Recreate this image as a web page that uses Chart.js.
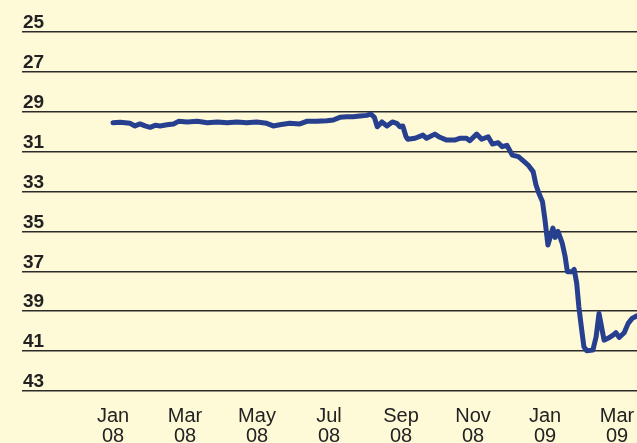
<!DOCTYPE html>
<html>
<head>
<meta charset="utf-8">
<script src="https://cdn.jsdelivr.net/npm/chart.js@4/dist/chart.umd.min.js"></script>
<style>
  html, body { margin: 0; padding: 0; background: #fef9d7; }
  canvas { display: block; }
</style>
</head>
<body>
<canvas id="c" width="637" height="443"></canvas>
<script>
// Month offsets from Jan 2008 (0 = Jan 08, 2 = Mar 08, ... 14 = Mar 09)
const months = [0,0.2,0.47,0.61,0.75,0.89,1.03,1.17,1.31,1.5,1.68,1.82,2.06,2.34,2.62,2.9,3.17,3.44,3.71,3.99,4.27,4.45,4.63,4.91,5.19,5.38,5.66,5.94,6.12,6.30,6.49,6.67,6.86,7.05,7.16,7.26,7.34,7.47,7.61,7.76,7.88,7.97,8.05,8.14,8.19,8.39,8.61,8.71,8.94,9.08,9.27,9.49,9.63,9.82,9.91,10.10,10.24,10.42,10.54,10.70,10.81,10.94,11.09,11.26,11.39,11.53,11.67,11.75,11.83,11.93,12.0,12.08,12.22,12.28,12.36,12.48,12.56,12.62,12.75,12.81,12.88,12.94,13.02,13.08,13.16,13.33,13.42,13.50,13.57,13.64,13.75,13.89,13.97,14.06,14.20,14.31,14.42,14.555];
const values = [29.55,29.52,29.58,29.71,29.61,29.71,29.78,29.68,29.71,29.65,29.61,29.48,29.51,29.48,29.55,29.51,29.55,29.51,29.55,29.51,29.58,29.71,29.65,29.58,29.61,29.48,29.48,29.45,29.41,29.28,29.25,29.25,29.21,29.18,29.11,29.28,29.75,29.51,29.71,29.51,29.58,29.75,29.71,30.25,30.38,30.33,30.17,30.33,30.12,30.28,30.42,30.42,30.33,30.33,30.45,30.12,30.38,30.25,30.62,30.55,30.75,30.68,31.17,31.25,31.45,31.67,32.0,32.67,33.09,33.51,34.43,35.68,34.83,35.3,35.0,35.6,36.27,37.02,37.02,36.9,37.6,38.78,39.95,40.78,40.98,40.95,40.28,39.11,39.78,40.45,40.36,40.2,40.08,40.31,40.08,39.61,39.36,39.23];
const tickMonths = [0,2,4,6,8,10,12,14];
const tickLabels = [["Jan","08"],["Mar","08"],["May","08"],["Jul","08"],["Sep","08"],["Nov","08"],["Jan","09"],["Mar","09"]];
const yTicks = [25,27,29,31,33,35,37,39,41,43];

const points = months.map((m, i) => ({ x: m, y: values[i] }));
const FONT = '"Liberation Sans", Arial, Helvetica, sans-serif';

const bg = {
  id: 'bg',
  beforeDraw(chart) {
    const ctx = chart.ctx;
    ctx.save();
    ctx.fillStyle = '#fef9d7';
    ctx.fillRect(0, 0, chart.width, chart.height);
    ctx.restore();
  }
};

new Chart(document.getElementById('c'), {
  type: 'line',
  data: {
    datasets: [{
      data: points,
      borderColor: '#263f8f',
      borderWidth: 5,
      pointRadius: 0,
      tension: 0,
      fill: false,
      borderJoinStyle: 'round',
      borderCapStyle: 'round'
    }]
  },
  options: {
    responsive: false,
    animation: false,
    layout: { padding: { top: 32, left: 0, right: 0, bottom: 0 } },
    plugins: { legend: { display: false }, tooltip: { enabled: false } },
    scales: {
      x: {
        type: 'linear',
        min: -2.528,
        max: 14.555,
        grid: { display: false },
        border: { display: false },
        afterBuildTicks(scale) { scale.ticks = tickMonths.map(v => ({ value: v })); },
        afterFit(scale) { scale.height = 52; scale.paddingLeft = 0; scale.paddingRight = 0; },
        ticks: {
          autoSkip: false,
          maxRotation: 0,
          padding: 7,
          color: '#222',
          font: { family: FONT, size: 20, lineHeight: 1.0 },
          callback(v) { const i = tickMonths.indexOf(v); return i >= 0 ? tickLabels[i] : ''; }
        }
      },
      y: {
        reverse: true,
        min: 25,
        max: 43,
        afterBuildTicks(scale) { scale.ticks = yTicks.map(v => ({ value: v })); },
        afterFit(scale) { scale.width = 22; scale.paddingTop = 0; scale.paddingBottom = 0; },
        grid: { color: '#2b2b2b', lineWidth: 1.5, drawTicks: false },
        border: { display: false },
        ticks: {
          mirror: true,
          padding: 1,
          labelOffset: -9,
          color: '#222',
          font: { family: FONT, size: 19, weight: 'bold' }
        }
      }
    }
  },
  plugins: [bg]
});
</script>
</body>
</html>
